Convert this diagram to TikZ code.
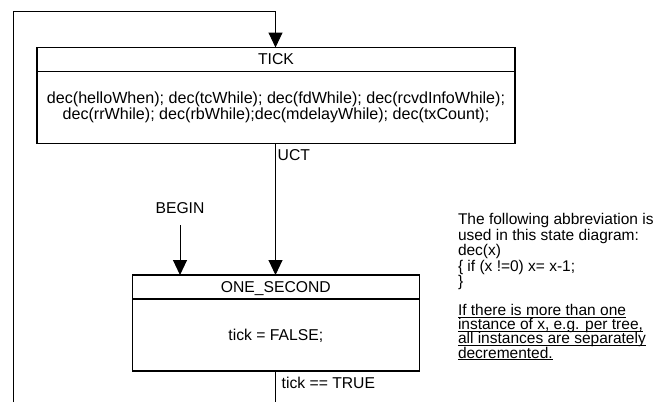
\documentclass[tikz,border=0pt]{standalone}
\usepackage{fontspec}
\setmainfont{Liberation Sans}
\usetikzlibrary{arrows.meta}
\newcommand\myul[1]{\underline{\smash{#1}}}
\begin{document}
\begin{tikzpicture}[x=1pt,y=-1pt,
  every node/.style={inner sep=0pt, outer sep=0pt, font=\fontsize{15.7}{16.5}\selectfont},
  statebox/.style={draw, line width=1.6pt, rectangle, inner sep=0pt},
  conn/.style={draw, line width=1pt},
  arr/.style={conn, -{Triangle[length=15pt,width=14pt]}},
  lbl/.style={anchor=base west}
]
\useasboundingbox (0,0) rectangle (653,402);
% TICK state
\node[statebox, minimum width=478pt, minimum height=95.8pt] (tick) at (276,95.4) {};
\draw[line width=1.6pt] (tick.west |- 0,71.5) -- (tick.east |- 0,71.5);
\node[anchor=base] (ticktitle) at (276,64) {TICK};
\node[anchor=north, align=center, font=\fontsize{16.1}{16.6}\selectfont] (tickbody) at (276,91.4)
  {dec(helloWhen); dec(tcWhile); dec(fdWhile); dec(rcvdInfoWhile);\\
   dec(rrWhile); dec(rbWhile);dec(mdelayWhile); dec(txCount);};
% ONE_SECOND state
\node[statebox, minimum width=287pt, minimum height=95.7pt] (one) at (275.8,322.85) {};
\draw[line width=1.6pt] (one.west |- 0,299) -- (one.east |- 0,299);
\node[anchor=base] (onetitle) at (275.8,292) {ONE\_SECOND};
\node[anchor=base] (onebody) at (275.8,340) {tick = FALSE;};
% BEGIN
\node[anchor=base] (begin) at (180,213) {BEGIN};
\coordinate (beginstart) at (180,225);
\draw[arr] (beginstart) -- (beginstart |- one.north);
% UCT transition
\draw[arr] (tick.south -| 275.5,0) -- (one.north -| 275.5,0);
\node[lbl] (uct) at (277.7,160) {UCT};
% tick == TRUE transition with loop back to TICK
\coordinate (outbot) at (275.5,402);
\draw[conn] (one.south -| outbot) -- (outbot);
\node[lbl] (ticktrue) at (281.7,388) {tick == TRUE};
\coordinate (loopbot) at (13,402);
\coordinate (looptop) at (13,11.7);
\draw[conn] (loopbot) -- (looptop) -- (275.5,11.7) coordinate (loopturn);
\draw[arr] (loopturn) -- (tick.north -| loopturn);
% note
\node[anchor=north west, align=left, font=\fontsize{15.5}{14.3}\selectfont] (note) at (458,213.7)
  {The following abbreviation is\\
   used in this state diagram:\\
   dec(x)\\
   \{ if (x !=0) x= x-1;\\
   \}\\[14.3pt]
   \myul{If there is more than one}\\
   \myul{instance of x, e.g. per tree,}\\
   \myul{all instances are separately}\\
   \myul{decremented.}};
\end{tikzpicture}
\end{document}
